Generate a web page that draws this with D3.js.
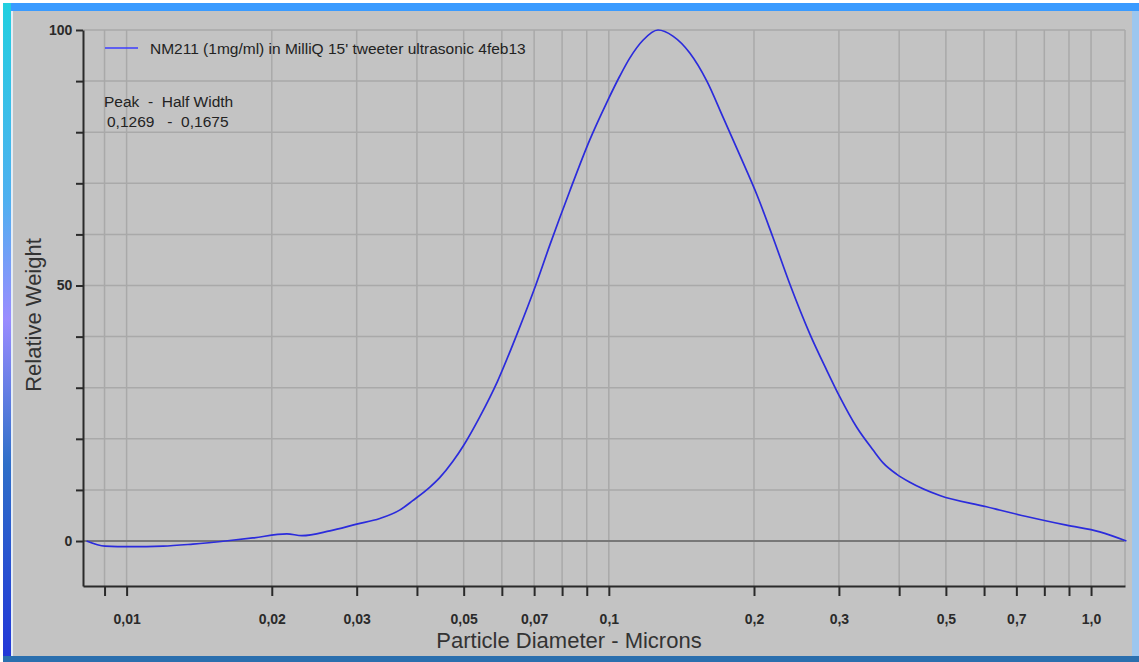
<!DOCTYPE html>
<html>
<head>
<meta charset="utf-8">
<script src="https://cdn.jsdelivr.net/npm/d3@7"></script>
<style>
    body { margin: 0; background: #ffffff; }
    svg text { font-family: "Liberation Sans", Arial, sans-serif; }
</style>
</head>
<body>
<div id="chart-area"></div>
<script>

// particle size distribution
let diameters = [0.00826, 0.00902, 0.01016, 0.0119, 0.01372, 0.01637, 0.01827, 0.0215, 0.0231, 0.0264,
    0.0300, 0.0335, 0.0369, 0.0392, 0.0425, 0.0446, 0.0475, 0.0499, 0.0540, 0.0588,
    0.0645, 0.0705, 0.0755, 0.0830, 0.0913, 0.0990, 0.1054, 0.1105, 0.1177,
    0.1265, 0.1358, 0.1472, 0.1597, 0.1724, 0.1869, 0.2027, 0.2188, 0.2373, 0.2612,
    0.2828, 0.3013, 0.3264, 0.3532, 0.3705, 0.3950, 0.4209, 0.4857, 0.6069, 0.7347,
    0.8892, 1.0426, 1.184];
let weights = [0.0, -1.0, -1.1, -1.0, -0.6, 0.1, 0.6, 1.4, 1.05, 2.0,
    3.3, 4.4, 6.1, 7.9, 10.5, 12.4, 15.6, 18.6, 24.3, 31.3,
    40.5, 50.0, 58.0, 68.5, 78.5, 85.8, 91.0, 94.5, 98.0,
    100.0, 98.8, 95.5, 90.0, 83.0, 75.5, 67.8, 59.5, 50.3, 40.5,
    33.5, 28.2, 22.3, 17.8, 15.3, 13.1, 11.5, 8.9, 6.7, 4.8,
    3.1, 1.8, 0.0];

let xTickValues = [0.009, 0.01, 0.02, 0.03, 0.04, 0.05, 0.06, 0.07, 0.08, 0.09,
    0.1, 0.2, 0.3, 0.4, 0.5, 0.6, 0.7, 0.8, 0.9, 1.0];
let xLabelValues = [0.01, 0.02, 0.03, 0.05, 0.07, 0.1, 0.2, 0.3, 0.5, 0.7, 1.0];
let xLabelTexts = ["0,01", "0,02", "0,03", "0,05", "0,07", "0,1", "0,2", "0,3", "0,5", "0,7", "1,0"];
let yTickValues = [0, 10, 20, 30, 40, 50, 60, 70, 80, 90, 100];
let yLabelValues = [0, 50, 100];

let seriesName = "NM211 (1mg/ml) in MilliQ 15' tweeter ultrasonic 4feb13";
let peakText = "Peak  -  Half Width";
let peakValues = "0,1269   -  0,1675";

class SizeVis {

    constructor(_parentElement, _data) {
        this.parentElement = _parentElement;
        this.data = _data;
        this.initVis();
    }

    initVis() {
        let vis = this;

        vis.fullWidth = 1139;
        vis.fullHeight = 662;
        vis.margin = { top: 30, right: 14, bottom: 76, left: 83 };
        vis.width = vis.fullWidth - vis.margin.left - vis.margin.right;
        vis.height = vis.fullHeight - vis.margin.top - vis.margin.bottom;

        vis.root = d3.select("#" + vis.parentElement).append("svg")
            .attr("width", vis.fullWidth)
            .attr("height", vis.fullHeight);

        // window frame
        let grad = vis.root.append("defs").append("linearGradient")
            .attr("id", "side")
            .attr("x1", 0).attr("y1", 0).attr("x2", 0).attr("y2", 1);
        grad.append("stop").attr("offset", "0%").attr("stop-color", "#22cfe0");
        grad.append("stop").attr("offset", "30%").attr("stop-color", "#4fb0f0");
        grad.append("stop").attr("offset", "48%").attr("stop-color", "#9a8cff");
        grad.append("stop").attr("offset", "70%").attr("stop-color", "#2f6fc8");
        grad.append("stop").attr("offset", "100%").attr("stop-color", "#2236d8");

        vis.root.append("rect")
            .attr("x", 3).attr("y", 3)
            .attr("width", vis.fullWidth - 3).attr("height", vis.fullHeight - 3)
            .attr("fill", "#c3c3c3");
        vis.root.append("rect")
            .attr("x", 3).attr("y", 3).attr("width", vis.fullWidth - 3).attr("height", 8)
            .attr("fill", "#3a9bff");
        vis.root.append("rect")
            .attr("x", 3).attr("y", 3).attr("width", 8).attr("height", vis.fullHeight - 3)
            .attr("fill", "url(#side)");
        vis.root.append("rect")
            .attr("x", 11).attr("y", 11).attr("width", 2).attr("height", vis.fullHeight - 17)
            .attr("fill", "#e4ecf4");
        vis.root.append("rect")
            .attr("x", 3).attr("y", vis.fullHeight - 6).attr("width", vis.fullWidth - 3).attr("height", 6)
            .attr("fill", "#2a6fae");
        vis.root.append("rect")
            .attr("x", vis.fullWidth - 7).attr("y", 11).attr("width", 7).attr("height", vis.fullHeight - 17)
            .attr("fill", "#9cc6ee");

        vis.svg = vis.root.append("g")
            .attr("transform", "translate(" + vis.margin.left + "," + vis.margin.top + ")");

        vis.x = d3.scaleLog()
            .domain([0.00812, 1.176])
            .range([0, vis.width]);

        vis.y = d3.scaleLinear()
            .domain([-8.8, 100])
            .range([vis.height, 0]);

        // grid
        vis.svg.append("g")
            .attr("class", "grid")
            .selectAll("line.v")
            .data(xTickValues)
            .enter().append("line")
            .attr("x1", d => vis.x(d)).attr("x2", d => vis.x(d))
            .attr("y1", 0).attr("y2", vis.height)
            .attr("stroke", "#a9a9a9")
            .attr("stroke-width", 1.5);

        vis.svg.append("g")
            .attr("class", "grid")
            .selectAll("line.h")
            .data(yTickValues)
            .enter().append("line")
            .attr("x1", 0).attr("x2", vis.width)
            .attr("y1", d => vis.y(d)).attr("y2", d => vis.y(d))
            .attr("stroke", d => d === 0 ? "#787878" : "#a9a9a9")
            .attr("stroke-width", d => d === 0 ? 2 : 1.5);

        vis.svg.append("line")
            .attr("x1", vis.width).attr("x2", vis.width)
            .attr("y1", 0).attr("y2", vis.height)
            .attr("stroke", "#a9a9a9")
            .attr("stroke-width", 1.5);

        // axes
        vis.xAxis = d3.axisBottom(vis.x)
            .tickValues(xTickValues)
            .tickSize(10)
            .tickSizeOuter(0)
            .tickFormat(d => {
                let i = xLabelValues.findIndex(v => Math.abs(v - d) < 1e-9);
                return i >= 0 ? xLabelTexts[i] : "";
            });

        vis.yAxis = d3.axisLeft(vis.y)
            .tickValues(yTickValues)
            .tickSize(7)
            .tickSizeOuter(0)
            .tickFormat(d => yLabelValues.includes(d) ? d : "");

        vis.svg.append("g")
            .attr("class", "x-axis axis")
            .attr("transform", "translate(0," + vis.height + ")")
            .call(vis.xAxis);

        vis.svg.append("g")
            .attr("class", "y-axis axis")
            .call(vis.yAxis);

        vis.svg.selectAll(".axis path")
            .attr("stroke", "#2a2a2a")
            .attr("stroke-width", 2);
        vis.svg.selectAll(".axis line")
            .attr("stroke", "#2a2a2a")
            .attr("stroke-width", 2);
        vis.svg.selectAll(".axis text")
            .attr("fill", "#2a2a2a")
            .attr("font-size", 14)
            .attr("font-weight", "bold");
        vis.svg.selectAll(".x-axis text").attr("dy", "1.75em");
        vis.svg.selectAll(".y-axis text").attr("dx", "-0.05em");

        // axis titles
        vis.root.append("text")
            .attr("transform", "translate(41,315) rotate(-90)")
            .attr("text-anchor", "middle")
            .attr("font-size", 22)
            .attr("fill", "#333")
            .text("Relative Weight");

        vis.root.append("text")
            .attr("x", 569)
            .attr("y", 648)
            .attr("text-anchor", "middle")
            .attr("font-size", 22)
            .attr("fill", "#333")
            .text("Particle Diameter - Microns");

        // legend
        vis.svg.append("line")
            .attr("x1", 22).attr("x2", 55)
            .attr("y1", 18).attr("y2", 18)
            .attr("stroke", "#3d3dff")
            .attr("stroke-width", 1.5);
        vis.svg.append("text")
            .attr("x", 67).attr("y", 23.5)
            .attr("font-size", 15.5)
            .attr("fill", "#222")
            .text(seriesName);
        vis.svg.append("text")
            .attr("x", 21).attr("y", 76.5)
            .attr("font-size", 15.5)
            .attr("fill", "#222")
            .style("white-space", "pre")
            .text(peakText);
        vis.svg.append("text")
            .attr("x", 24).attr("y", 96.5)
            .attr("font-size", 15.5)
            .attr("fill", "#222")
            .style("white-space", "pre")
            .text(peakValues);

        vis.line = d3.line()
            .curve(d3.curveMonotoneX)
            .x(d => vis.x(d.size))
            .y(d => vis.y(d.weight));

        vis.updateVis();
    }

    updateVis() {
        let vis = this;

        vis.svg.append("path")
            .datum(vis.data)
            .attr("fill", "none")
            .attr("stroke", "#2b2bdc")
            .attr("stroke-width", 1.7)
            .attr("d", vis.line);
    }
}

let data = diameters.map((d, i) => ({ size: d, weight: weights[i] }));
let sizeVis = new SizeVis("chart-area", data);

</script>
</body>
</html>
